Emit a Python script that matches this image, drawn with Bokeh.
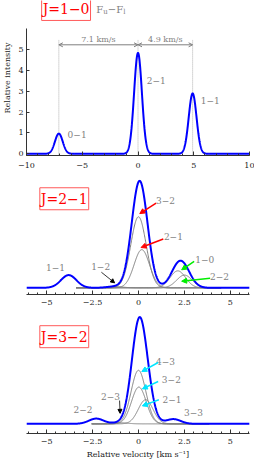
import numpy as np
from bokeh.plotting import figure
from bokeh.models import Range1d, SingleIntervalTicker, Label, Arrow, NormalHead, OpenHead
from bokeh.layouts import column
from bokeh.embed import file_html
from bokeh.resources import INLINE

# ---------------- data ----------------
# J=1-0 hyperfine components (F_u - F_l)
j10_names = ["0−1", "2−1", "1−1"]
j10_centers = [-7.1, 0.0, 4.9]
j10_amps = [0.97, 4.85, 2.9]
j10_sigma = 0.35
j10_seps = ["7.1 km/s", "4.9 km/s"]

# J=2-1 components (relative intensity, blue peak = 1)
j21_names = ["1−1", "1−2", "3−2", "2−1", "1−0", "2−2"]
j21_centers = [-3.8, -1.3, 0.0, 0.18, 2.14, 2.5]
j21_amps = [0.12, 0.012, 0.67, 0.36, 0.16, 0.12]
j21_gray = [False, True, True, True, True, True]
j21_sigma = 0.42

# J=3-2 components
j32_names = ["2−2", "2−3", "4−3", "3−2", "2−1", "3−3"]
j32_centers = [-2.3, -1.0, 0.0, 0.02, 0.39, 1.9]
j32_amps = [0.05, 0.01, 0.51, 0.35, 0.23, 0.045]
j32_gray = [False, True, True, True, True, False]
j32_sigma = 0.40

top_xticks = [-10, -5, 0, 5, 10]
top_xtick_labels = ["−10", "−5", "0", "5", "10"]
top_yticks = [0, 1, 2, 3, 4, 5]
low_xticks = [-5, -2.5, 0, 2.5, 5]
low_xtick_labels = ["−5", "−2.5", "0", "2.5", "5"]

FONT = "DejaVu Serif"
BLUE = "#0000ff"
GRAY = "#7f7f7f"
AX = "#333333"


def gauss(v, c, a, s):
    return a * np.exp(-(v - c) ** 2 / (2 * s * s))


def profile(v, centers, amps, s):
    out = np.zeros_like(v)
    for c, a in zip(centers, amps):
        out = out + gauss(v, c, a, s)
    return out


def make_fig(height, xr, yr, bottom, yaxis=False):
    p = figure(width=254, height=height, x_range=Range1d(*xr), y_range=Range1d(*yr),
               output_backend="svg", toolbar_location=None, title=None,
               min_border_left=22, min_border_right=5, min_border_top=0,
               min_border_bottom=bottom, outline_line_color=None,
               y_axis_location="left" if yaxis else None)
    p.xgrid.visible = False
    p.ygrid.visible = False
    ax = p.xaxis[0]
    ax.axis_line_color = AX
    ax.major_tick_line_color = AX
    ax.minor_tick_line_color = AX
    ax.major_tick_in = 4
    ax.major_tick_out = 0
    ax.minor_tick_in = 2
    ax.minor_tick_out = 0
    ax.major_label_text_font = FONT
    ax.major_label_text_font_size = "8px"
    ax.major_label_text_color = "#222222"
    ax.axis_label_text_font = FONT
    ax.axis_label_text_font_size = "8px"
    ax.axis_label_text_font_style = "normal"
    ax.axis_label_text_color = "#222222"
    return p


def label(p, x, y, text, size="9px", color=GRAY, **kw):
    p.add_layout(Label(x=x, y=y, text=text, text_font=FONT, text_font_size=size,
                       text_color=color, text_align=kw.pop("align", "center"),
                       text_baseline="middle", **kw))


def box_label(p, x, y, text):
    p.add_layout(Label(x=x, y=y, text=text, text_font=FONT, text_font_size="14px",
                       text_color="#ff0000", text_align="center", text_baseline="middle",
                       border_line_color="#ff5a5a", border_line_width=1,
                       background_fill_color="white", padding=(1, 3)))


def arrow(p, xs, ys, xe, ye, color, width=1.5, size=5):
    p.add_layout(Arrow(end=NormalHead(size=size, fill_color=color, line_color=color, line_width=1),
                       x_start=xs, y_start=ys, x_end=xe, y_end=ye,
                       line_color=color, line_width=width))


# ---------------- panel 1: J=1-0 ----------------
p1 = make_fig(176, (-10.0, 10.0), (-0.082, 7.37), 21, yaxis=True)
v1 = np.linspace(-10, 10, 1201)
ax = p1.xaxis[0]
ax.ticker = SingleIntervalTicker(interval=5, num_minor_ticks=5)
ax.major_label_overrides = dict(zip(top_xticks, top_xtick_labels))
ax.major_label_standoff = 7
ay = p1.yaxis[0]
ay.ticker = top_yticks
ay.bounds = (-0.082, 6.0)
ay.axis_line_color = AX
ay.major_tick_line_color = AX
ay.major_tick_in = 3
ay.major_tick_out = 0
ay.minor_tick_line_color = None
ay.major_label_standoff = 3
ay.major_label_text_font = FONT
ay.major_label_text_font_size = "8px"
ay.major_label_text_color = "#222222"
ay.axis_label = "Relative intensity"
ay.axis_label_text_font = FONT
ay.axis_label_text_font_size = "8px"
ay.axis_label_text_font_style = "normal"
ay.axis_label_text_color = "#222222"
ay.axis_label_standoff = 3

# dotted guide lines through the components
p1.segment(x0=j10_centers, y0=[-0.08] * 3, x1=j10_centers, y1=[5.5] * 3,
           line_color="#b0b0b0", line_dash="1 1", line_width=1)
p1.line(v1, profile(v1, j10_centers, j10_amps, j10_sigma), line_color=BLUE, line_width=2)

head = dict(size=4, line_color=GRAY, line_width=1)
for (a, b), t in zip([(j10_centers[0], j10_centers[1]), (j10_centers[1], j10_centers[2])], j10_seps):
    p1.add_layout(Arrow(start=OpenHead(**head), end=OpenHead(**head), x_start=a, y_start=5.24,
                        x_end=b, y_end=5.24, line_color=GRAY, line_width=1))
    label(p1, (a + b) / 2, 5.5, t, size="8px")

for n, x, y in zip(j10_names, [-5.46, 1.63, 6.48], [0.93, 3.52, 2.56]):
    label(p1, x, y, n)

box_label(p1, -6.45, 6.94, "J=1−0")
label(p1, -3.74, 6.94, "F", size="10px", align="left")
label(p1, -3.74, 6.94, "u", size="7px", align="left", x_offset=7, y_offset=-3)
label(p1, -3.74, 6.94, "−F", size="10px", align="left", x_offset=11.5)
label(p1, -3.74, 6.94, "l", size="7px", align="left", x_offset=27, y_offset=-3)

# ---------------- panel 2: J=2-1 ----------------
xr_low = (-6.096, 6.043)
p2 = make_fig(135, xr_low, (-0.063, 1.05), 17)
ax = p2.xaxis[0]
ax.ticker = SingleIntervalTicker(interval=2.5, num_minor_ticks=5)
ax.major_label_overrides = dict(zip(low_xticks, low_xtick_labels))
ax.major_label_standoff = 5

v2 = np.linspace(-6.1, 6.05, 1001)
vg2 = np.linspace(-3.4, 4.5, 600)
gx, gy = [], []
for c, a, g in zip(j21_centers, j21_amps, j21_gray):
    if g:
        gx.append(vg2)
        gy.append(gauss(vg2, c, a, j21_sigma))
p2.multi_line(gx, gy, line_color=GRAY, line_width=1)
p2.line(v2, profile(v2, j21_centers, j21_amps, j21_sigma), line_color=BLUE, line_width=2)

for n, x, y in zip(j21_names, [-4.52, -2.06, 1.47, 1.90, 3.61, 4.41],
                   [0.19, 0.20, 0.82, 0.48, 0.27, 0.107]):
    label(p2, x, y, n)
arrow(p2, 0.96, 0.80, 0.07, 0.70, "#ff0000")
arrow(p2, 1.35, 0.46, 0.14, 0.38, "#ff0000")
arrow(p2, 3.03, 0.25, 2.35, 0.17, "#00ee00")
arrow(p2, 3.90, 0.09, 2.35, 0.062, "#00ee00")
arrow(p2, -2.02, 0.147, -1.30, 0.047, "#000000", width=0.8, size=4)
box_label(p2, -4.04, 0.84, "J=2−1")

# ---------------- panel 3: J=3-2 ----------------
p3 = make_fig(151, xr_low, (-0.092, 1.07), 29)
ax = p3.xaxis[0]
ax.ticker = SingleIntervalTicker(interval=2.5, num_minor_ticks=5)
ax.major_label_overrides = dict(zip(low_xticks, low_xtick_labels))
ax.major_label_standoff = 5
ax.axis_label = "Relative velocity [km s⁻¹]"
ax.axis_label_standoff = 3

v3 = np.linspace(-6.1, 6.05, 1001)
vg3 = np.linspace(-2.55, 3.85, 600)
gx, gy = [], []
for c, a, g in zip(j32_centers, j32_amps, j32_gray):
    if g:
        gx.append(vg3)
        gy.append(gauss(vg3, c, a, j32_sigma))
p3.multi_line(gx, gy, line_color=GRAY, line_width=1)
p3.line(v3, profile(v3, j32_centers, j32_amps, j32_sigma), line_color=BLUE, line_width=2)

for n, x, y in zip(j32_names, [-3.02, -1.52, 1.47, 1.79, 1.82, 2.99],
                   [0.136, 0.263, 0.593, 0.42, 0.234, 0.105]):
    label(p3, x, y, n)
arrow(p3, 1.07, 0.584, 0.18, 0.498, "#00e5ff")
arrow(p3, 1.07, 0.403, 0.21, 0.333, "#00e5ff")
arrow(p3, 1.11, 0.229, 0.21, 0.171, "#00e5ff")
arrow(p3, -1.03, 0.222, -1.0, 0.10, "#000000", width=0.8, size=4)
box_label(p3, -4.04, 0.83, "J=3−2")

layout = column(p1, p2, p3, spacing=0)
open("out.html", "w").write(file_html(layout, INLINE))
